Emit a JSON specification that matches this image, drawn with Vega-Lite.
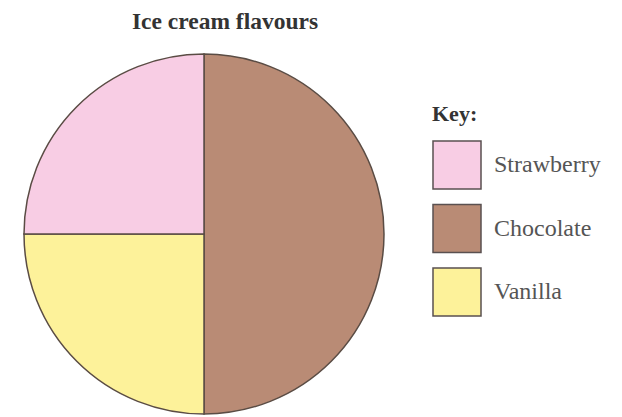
{
  "$schema": "https://vega.github.io/schema/vega-lite/v6.json",
  "width": 360,
  "height": 360,
  "autosize": {"type": "none"},
  "padding": {"left": 24, "top": 54, "right": 238, "bottom": 3},
  "background": "white",
  "title": {
    "text": "Ice cream flavours",
    "font": "Liberation Serif",
    "fontSize": 23.5,
    "fontWeight": "bold",
    "color": "#333333",
    "anchor": "middle",
    "dx": 21,
    "offset": 18
  },
  "data": {
    "values": [
      {"flavour": "Chocolate", "share": 50, "rank": 1},
      {"flavour": "Vanilla", "share": 25, "rank": 2},
      {"flavour": "Strawberry", "share": 25, "rank": 3}
    ]
  },
  "mark": {"type": "arc", "outerRadius": 180, "stroke": "#5a4c44", "strokeWidth": 1.5},
  "encoding": {
    "theta": {"field": "share", "type": "quantitative", "stack": true},
    "order": {"field": "rank", "type": "quantitative"},
    "color": {
      "field": "flavour",
      "type": "nominal",
      "scale": {
        "domain": ["Strawberry", "Chocolate", "Vanilla"],
        "range": ["#f8cde4", "#b98b75", "#fdf29a"]
      },
      "legend": {
        "title": "Key:",
        "orient": "none",
        "legendX": 408,
        "legendY": 50,
        "titleFont": "Liberation Serif",
        "titleFontSize": 22,
        "titleFontWeight": "bold",
        "titleColor": "#333333",
        "titlePadding": 14,
        "labelFont": "Liberation Serif",
        "labelFontSize": 24,
        "labelColor": "#555555",
        "labelOffset": 12,
        "labelLimit": 200,
        "symbolType": "square",
        "symbolSize": 2304,
        "symbolStrokeColor": "#5a5050",
        "symbolStrokeWidth": 1.5,
        "symbolOpacity": 1,
        "rowPadding": 9.5
      }
    }
  },
  "config": {"view": {"stroke": null}}
}
